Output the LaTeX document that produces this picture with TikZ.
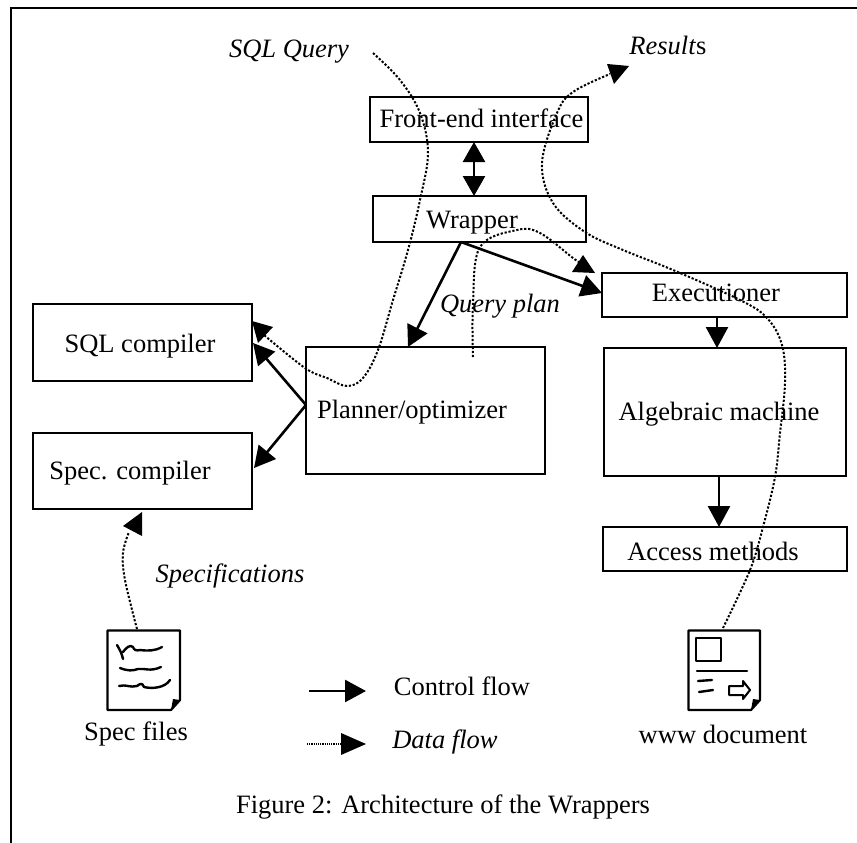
\documentclass[tikz,border=0pt]{standalone}
\usepackage{fontspec}
\setmainfont{Liberation Serif}
\usetikzlibrary{arrows.meta}
\tikzset{
  boxn/.style={draw=black,line width=2.2pt,fill=none,inner sep=0pt},
  txt/.style={anchor=base,inner sep=0pt,font=\fontsize{26.5}{30}\selectfont},
  itxt/.style={txt,font=\fontsize{26.5}{30}\selectfont\itshape},
  ctl/.style={draw=black,line width=2.6pt,-{Triangle[length=21pt,width=22pt]}},
  ctlb/.style={draw=black,line width=2.6pt,{Triangle[length=20pt,width=22pt]}-{Triangle[length=20pt,width=22pt]}},
  dat/.style={draw=black,line width=2pt,dash pattern=on 2.2pt off 1.8pt},
  tip/.style={fill=black,draw=none},
  docn/.style={draw=black,line width=2.2pt,line join=round},
  ink/.style={draw=black,line width=2.4pt,line cap=round,line join=round},
}
\newcommand{\bx}[5]{\node[boxn,minimum width=#4pt-#2pt,minimum height=#5pt-#3pt] (#1) at ({(#2+#4)/2},{(#3+#5)/2}) {};}
\begin{document}
\begin{tikzpicture}[x=1pt,y=-1pt]
\useasboundingbox (0,0) rectangle (857,843);
\fill[white] (0,0) rectangle (857,843);
\draw[black,line width=2pt] (11,843) -- (11,8) -- (857,8);
% boxes
\bx{front}{370}{97}{588}{142}
\bx{wrap}{373}{196}{586}{242}
\bx{exec}{602}{273}{847}{317}
\bx{sql}{33}{304}{252}{381}
\bx{spec}{33}{433}{252}{509}
\bx{plan}{306}{347}{545}{474}
\bx{alg}{604}{348}{846}{476}
\bx{acc}{603}{527}{847}{571}
% box texts
\node[txt] (frontt) at (481.5,128) {Front-end interface};
\node[txt] (wrapt) at (472,228) {Wrapper};
\node[txt] (exect) at (716,301) {Executioner};
\node[txt] (sqlt) at (140,352) {SQL compiler};
\node[txt] (spect) at (130,479) {Spec. compiler};
\node[txt] (plant) at (412,418) {Planner/optimizer};
\node[txt] (algt) at (719,420) {Algebraic machine};
\node[txt] (acct) at (713,560) {Access methods};
% labels
\node[itxt] (q) at (289,58) {SQL Query};
\node[txt] (res) at (668,55) {\textit{Result}s};
\node[itxt] (qp) at (500,312) {Query plan};
\node[itxt] (sp) at (230,582) {Specifications};
\node[txt] (sf) at (136,740) {Spec files};
\node[txt] (wd) at (723,743) {www document};
\node[txt] (cf) at (462,695) {Control flow};
\node[itxt] (df) at (445,748) {Data flow};
\node[txt] (cap) at (443,813) {Figure 2: Architecture of the Wrappers};
% control connectors
\coordinate (w0) at (461,242);
\coordinate (p0) at (408,347);
\coordinate (e0) at (602,293);
\coordinate (p1) at (306,405);
\coordinate (s1) at (253,343);
\coordinate (s2) at (254,468);
\coordinate (f0) at (474,142);
\coordinate (w1) at (474,196);
\coordinate (e1) at (717,317);
\coordinate (a0) at (717,348);
\coordinate (a1) at (719,476);
\coordinate (m0) at (719,527);
\draw[ctlb] (f0) -- (w1);
\draw[ctl] (w0) -- (p0);
\draw[ctl] (w0) -- (e0);
\draw[ctl] (e1) -- (a0);
\draw[ctl] (a1) -- (m0);
\draw[ctl] (p1) -- (s1);
\draw[ctl] (p1) -- (s2);
% data connectors
\draw[dat] plot[smooth,tension=0.6] coordinates {(373,53)(400,80)(420,113)(428,153)(420,200)(408,250)(393,300)(378,350)(363,378)(347,386)(327,378)(305,368)(264,335)};
\fill[tip] (252,321) -- (273,327) -- (258,343) -- cycle;
\draw[dat] plot[smooth,tension=0.6] coordinates {(723,628)(750,570)(763,527)(775,477)(780,433)(785,383)(782,345)(767,318)(740,300)(673,270)(623,250)(585,232)(553,203)(542,163)(557,113)(573,92)(610,74)};
\fill[tip] (607,64) -- (629,66) -- (614,84) -- cycle;
\draw[dat] plot[smooth,tension=0.6] coordinates {(473,357)(473,303)(480,247)(517,230)(540,233)(573,258)(582,264)};
\fill[tip] (583,255) -- (595,273) -- (572,272) -- cycle;
\draw[dat] plot[smooth,tension=0.6] coordinates {(137,629)(125,580)(123,553)(129,532)};
\fill[tip] (142,512) -- (123,526) -- (142,536) -- cycle;
% legend
\coordinate (l1) at (309,691);
\coordinate (l1e) at (366,691);
\coordinate (l2) at (307,744);
\coordinate (l2e) at (343,744);
\draw[ctl] (l1) -- (l1e);
\draw[draw=black,line width=2pt,dash pattern=on 1.2pt off 1pt] (l2) -- (l2e);
\fill[tip] (366,744) -- (341,733) -- (341,755) -- cycle;
% spec file icon
\draw[docn] (107.5,630.5) -- (180,630.5) -- (180,700) -- (171,710) -- (107.5,710) -- cycle;
\fill[black] (180,700) -- (171,710) -- (173,699) -- cycle;
\draw[ink] (117,645) .. controls (120,650) and (122,654) .. (123,659);
\draw[ink] (123,652) .. controls (126,648) and (130,644) .. (133,647) .. controls (134,650) and (136,651) .. (140,650) .. controls (148,651) and (155,651) .. (162,647);
\draw[ink] (120,668) .. controls (128,671) and (132,671) .. (138,669) .. controls (145,668) and (150,672) .. (161,667);
\draw[ink] (119,686) .. controls (126,684) and (130,688) .. (137,686) .. controls (140,684) and (142,682) .. (144,687) .. controls (152,689) and (165,688) .. (170,680);
% www icon
\draw[docn] (688.5,630.5) -- (760,630.5) -- (760,700) -- (751,710) -- (688.5,710) -- cycle;
\fill[black] (760,700) -- (751,710) -- (753,699) -- cycle;
\draw[ink] (696,638) rectangle (721,661);
\draw[ink] (697,671) -- (747,671);
\draw[ink] (698,681) -- (712,680);
\draw[ink] (699,692) -- (713,690);
\draw[ink,line width=2pt] (729,686) -- (743,686) -- (743,681) -- (750,690) -- (743,699) -- (743,695) -- (729,695) -- cycle;
\end{tikzpicture}
\end{document}
